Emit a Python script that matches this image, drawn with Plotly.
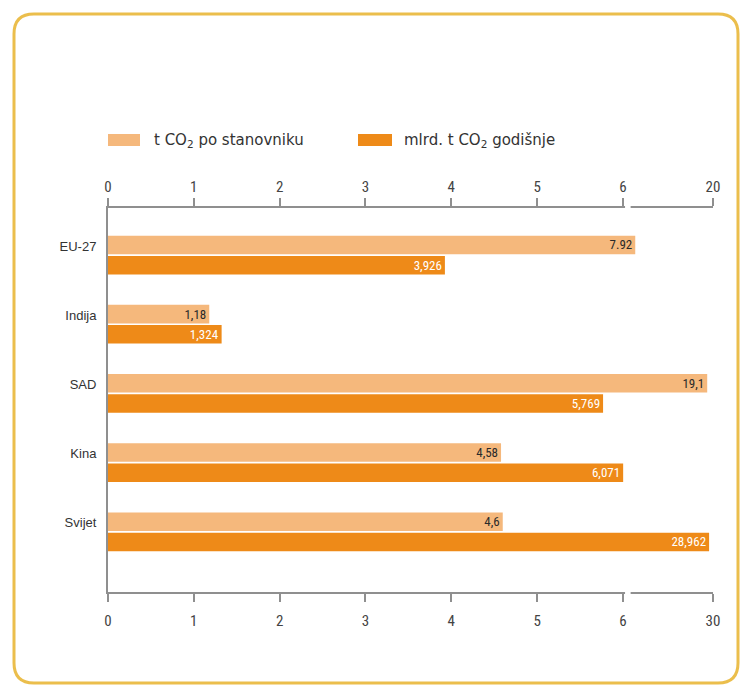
import plotly.graph_objects as go

# ---------------- data ----------------
categories = ["EU-27", "Indija", "SAD", "Kina", "Svijet"]
per_capita = [7.92, 1.18, 19.1, 4.58, 4.6]          # t CO2 po stanovniku (top axis)
per_capita_text = ["7.92", "1,18", "19,1", "4,58", "4,6"]
annual = [3.926, 1.324, 5.769, 6.071, 28.962]       # mlrd. t CO2 godišnje (bottom axis)
annual_text = ["3,926", "1,324", "5,769", "6,071", "28,962"]
tick_values = [0, 1, 2, 3, 4, 5, 6]
top_axis_max = 20
bottom_axis_max = 30
series_names = ["t CO<sub>2</sub> po stanovniku", "mlrd. t CO<sub>2</sub> godišnje"]

# ---------------- style ----------------
LIGHT = "#F5B87C"
DARK = "#EE8A18"
AXIS = "#8f8f8f"
TXT = "#333333"
BORDER = "#EBBE4C"
BREAK = 6
BREAK_W = 1.05          # width (in axis units) of the compressed segment after the break
FONT = "Liberation Sans Narrow, Roboto Condensed, Liberation Sans, Arial"


def brk(v, hi):
    """broken scale: linear up to 6, then the rest squeezed into one segment"""
    if v <= BREAK:
        return v
    return BREAK + (v - BREAK) / (hi - BREAK) * BREAK_W


XMAX = BREAK + BREAK_W
tickpos = [brk(t, 100) for t in tick_values] + [XMAX]

W, H = 743, 686
L, R, T, B = 108, 713, 208, 592


def px(x):
    return (x - L) / (R - L)


def py(y):
    return (B - y) / (B - T)


fig = go.Figure()
fig.add_trace(go.Bar(
    y=categories, x=[brk(v, top_axis_max) for v in per_capita],
    orientation="h", xaxis="x2", yaxis="y",
    marker=dict(color=LIGHT, line=dict(width=0)),
    width=0.268, offset=-0.28,
    text=per_capita_text, textposition="inside", insidetextanchor="end",
    constraintext="none",
    textfont=dict(color="#2a2a2a", size=13, family=FONT),
    name="t CO2 po stanovniku", showlegend=False,
))
fig.add_trace(go.Bar(
    y=categories, x=[brk(v, bottom_axis_max) for v in annual],
    orientation="h", xaxis="x", yaxis="y",
    marker=dict(color=DARK, line=dict(width=0)),
    width=0.268, offset=0.012,
    text=annual_text, textposition="inside", insidetextanchor="end",
    constraintext="none",
    textfont=dict(color="white", size=13, family=FONT),
    name="mlrd. t CO2 godišnje", showlegend=False,
))

axis_common = dict(
    range=[0, XMAX], tickmode="array", tickvals=tickpos,
    showline=True, linecolor=AXIS, linewidth=2,
    ticks="outside", ticklen=8, tickcolor=AXIS, tickwidth=1.5,
    showgrid=False, zeroline=False,
    tickfont=dict(size=15, color="#444444", family=FONT),
    fixedrange=True,
)

shapes = []
# breaks in the axis lines
for yy in (0, 1):
    shapes.append(dict(type="rect", xref="x", yref="paper",
                       x0=BREAK + 0.025, x1=BREAK + 0.09,
                       y0=yy - 0.015, y1=yy + 0.015,
                       fillcolor="white", line=dict(width=0), layer="above"))

# rounded panel border
x1, x2, y1, y2, r = 14, 738, 14, 683, 20
rx = r / (R - L)
ry = r / (B - T)
X1, X2, Y1, Y2 = px(x1), px(x2), py(y1), py(y2)
path = (f"M {X1+rx},{Y1} L {X2-rx},{Y1} Q {X2},{Y1} {X2},{Y1-ry} "
        f"L {X2},{Y2+ry} Q {X2},{Y2} {X2-rx},{Y2} "
        f"L {X1+rx},{Y2} Q {X1},{Y2} {X1},{Y2+ry} "
        f"L {X1},{Y1-ry} Q {X1},{Y1} {X1+rx},{Y1} Z")
shapes.append(dict(type="path", xref="paper", yref="paper", path=path,
                   line=dict(color=BORDER, width=3), fillcolor="rgba(0,0,0,0)",
                   layer="below"))

# legend patches
legend_items = [(108, 140, 152, LIGHT, series_names[0]),
                (358, 392, 402, DARK, series_names[1])]
annotations = []
for a, b, tx, col, name in legend_items:
    shapes.append(dict(type="rect", xref="paper", yref="paper",
                       x0=px(a), x1=px(b), y0=py(146), y1=py(134),
                       fillcolor=col, line=dict(width=0)))
    annotations.append(dict(xref="paper", yref="paper", x=px(tx), y=py(140),
                            text=name, showarrow=False, xanchor="left",
                            yanchor="middle",
                            font=dict(size=15, color=TXT, family="DejaVu Sans")))

fig.update_layout(
    width=W, height=H,
    margin=dict(l=L, r=W - R, t=T, b=H - B, autoexpand=False),
    paper_bgcolor="white", plot_bgcolor="rgba(0,0,0,0)",
    barmode="overlay",
    xaxis=dict(side="bottom", ticktext=[str(t) for t in tick_values] + [str(bottom_axis_max)],
               ticklabelstandoff=6, anchor="y", **axis_common),
    xaxis2=dict(side="top", overlaying="x", anchor="y",
                ticktext=[str(t) for t in tick_values] + [str(top_axis_max)],
                **axis_common),
    yaxis=dict(type="category", categoryorder="array", categoryarray=categories,
               range=[4.87, -0.68], showline=True, linecolor=AXIS, linewidth=2,
               ticks="", showgrid=False, zeroline=False, ticklabelstandoff=7,
               ticklabelshift=9,
               tickfont=dict(size=13, color=TXT, family="Liberation Sans, Arial"),
               fixedrange=True),
    shapes=shapes, annotations=annotations,
    showlegend=False,
)

fig.write_html("out.html")
